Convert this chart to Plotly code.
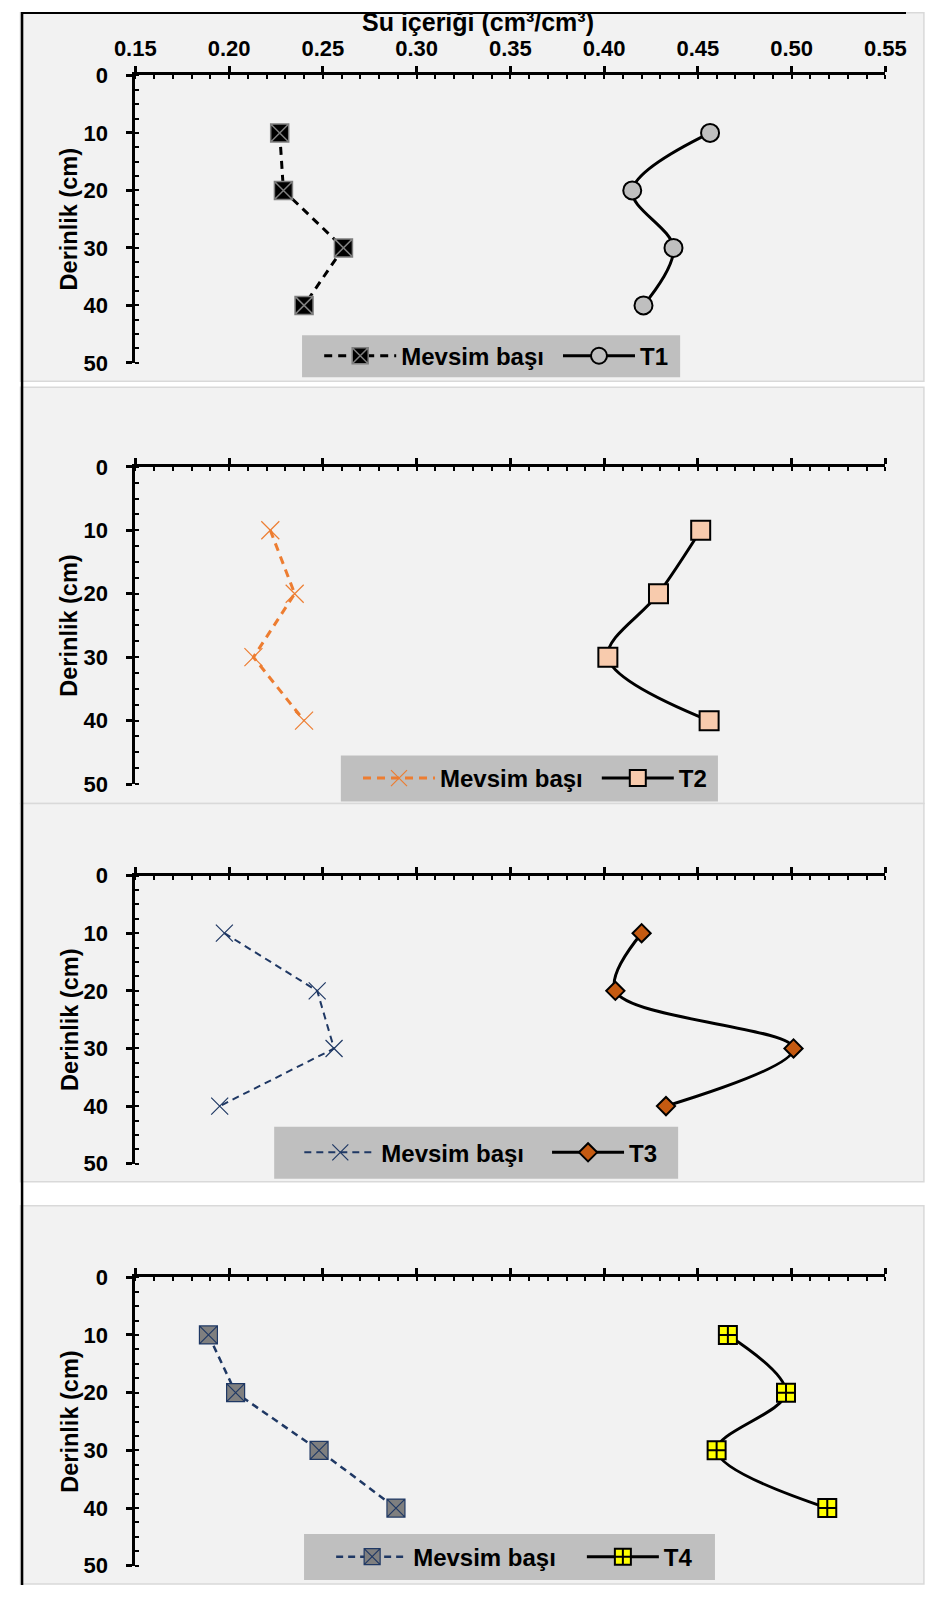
import plotly.graph_objects as go

W, H = 927, 1598

depth = [10, 20, 30, 40]

p1_mevsim = [0.227, 0.229, 0.261, 0.240]
p1_t1 = [0.4565, 0.415, 0.437, 0.421]

p2_mevsim = [0.222, 0.235, 0.213, 0.240]
p2_t2 = [0.4515, 0.429, 0.402, 0.456]

p3_mevsim = [0.1975, 0.247, 0.256, 0.195]
p3_t3 = [0.420, 0.406, 0.501, 0.433]

p4_mevsim = [0.189, 0.2035, 0.248, 0.289]
p4_t4 = [0.466, 0.497, 0.460, 0.519]

x_title = "Su içeriği (cm³/cm³)"
y_title = "Derinlik (cm)"
name_base = "Mevsim başı"
t_names = ["T1", "T2", "T3", "T4"]

FONT = "Liberation Sans, Arial, sans-serif"
FS_TICK = 22
FS_LEG = 24
FS_YT = 23.5
FS_XT = 25

# mapping from target picture pixels to figure pixels (the page is
# shown with a small offset / scale, compensated here)
SX, OX = 0.9675, 14.5
SY, OY = 0.989, 6.8


def fx(t):
    t = 1.00832 * t - 3.18
    return (t - OX) / SX


def fy(t):
    t = 1.00547 * t - 4.36
    return (t - OY) / SY


def px(t):
    return fx(t) / W


def py(t):
    return 1 - fy(t) / H


panels = [(7.6, 380), (386, 802), (802, 1180), (1204, 1582)]
axes_y = [(74.5, 361.7), (465.6, 782.6), (874.0, 1162.0), (1275.4, 1563.7)]
legend_boxes = [(300, 680, 334, 376), (339, 718, 754, 800),
                (272, 678, 1125, 1177), (302, 715, 1532, 1578)]
legend_starts = [(323, 563), (362, 602), (303, 552), (335, 587)]
X0, X1 = 132.4, 886.3

fig = go.Figure()

series = [
    (p1_mevsim, p1_t1,
     dict(color="black", width=3, dash="8px,6px"),
     dict(symbol="square-x", size=18, color="black", line=dict(color="#7f7f7f", width=1.5)),
     dict(symbol="circle", size=18, color="#bfbfbf", line=dict(color="black", width=2))),
    (p2_mevsim, p2_t2,
     dict(color="#ED7D31", width=3, dash="8px,6px"),
     dict(symbol="x-thin", size=18, color="#ED7D31", line=dict(color="#ED7D31", width=1.2)),
     dict(symbol="square", size=19, color="#F8CBAD", line=dict(color="black", width=2))),
    (p3_mevsim, p3_t3,
     dict(color="#1F3864", width=2, dash="7px,5px"),
     dict(symbol="x-thin", size=17, color="#1F3864", line=dict(color="#1F3864", width=1.2)),
     dict(symbol="diamond", size=14, color="#C55A11", line=dict(color="black", width=2))),
    (p4_mevsim, p4_t4,
     dict(color="#1F3864", width=2.5, dash="7px,5px"),
     dict(symbol="square-x", size=18, color="#7f7f7f", line=dict(color="#1F3864", width=1.2)),
     dict(symbol="square-cross", size=18, color="#FFFF00", line=dict(color="black", width=2))),
]

shapes = []
annotations = []
layout_extra = {}

for i, (mv, tv, mline, mmark, tmark) in enumerate(series):
    k = "" if i == 0 else str(i + 1)
    legA = "legend" if i == 0 else f"legend{2 * i + 1}"
    legB = f"legend{2 * i + 2}"
    fig.add_trace(go.Scatter(
        x=mv, y=depth, mode="lines+markers", name=name_base,
        line=mline, marker=mmark, xaxis=f"x{k}", yaxis=f"y{k}", legend=legA))
    fig.add_trace(go.Scatter(
        x=tv, y=depth, mode="lines+markers", name=t_names[i],
        line=dict(color="black", width=3, shape="spline", smoothing=1),
        marker=tmark, xaxis=f"x{k}", yaxis=f"y{k}", legend=legB))

    top, bot = panels[i]
    shapes.append(dict(type="rect", xref="paper", yref="paper",
                       x0=px(17), x1=px(925), y0=py(bot), y1=min(py(top), 0.9995),
                       fillcolor="#f2f2f2", line=dict(color="#d9d9d9", width=1.5),
                       layer="below"))
    lx0, lx1, ly0, ly1 = legend_boxes[i]
    shapes.append(dict(type="rect", xref="paper", yref="paper",
                       x0=px(lx0), x1=px(lx1), y0=py(ly1), y1=py(ly0),
                       fillcolor="#bfbfbf", line=dict(width=0), layer="below"))

    y0p, y50p = axes_y[i]
    layout_extra[f"xaxis{k}"] = dict(
        domain=[px(X0), px(X1)], range=[0.15, 0.55], side="top",
        anchor=f"y{k}", showline=True, linewidth=3, linecolor="black",
        ticks="outside", ticklen=6, tickwidth=2.5, tickcolor="black",
        tick0=0.15, dtick=0.05, tickformat=".2f",
        minor=dict(ticks="inside", dtick=0.01, ticklen=4, tickwidth=2, tickcolor="black"),
        showgrid=False, zeroline=False, showticklabels=(i == 0),
        ticklabelstandoff=2,
        tickfont=dict(family=FONT, size=FS_TICK, color="black", weight="bold"),
        fixedrange=True)
    layout_extra[f"yaxis{k}"] = dict(
        domain=[py(y50p), py(y0p)], range=[50, 0],
        anchor=f"x{k}", showline=True, linewidth=3, linecolor="black",
        ticks="outside", ticklen=6, tickwidth=2.5, tickcolor="black",
        tick0=0, dtick=10,
        minor=dict(ticks="inside", dtick=2.5, ticklen=4, tickwidth=2, tickcolor="black"),
        showgrid=False, zeroline=False, ticklabelstandoff=14,
        tickfont=dict(family=FONT, size=FS_TICK, color="black", weight="bold"),
        fixedrange=True)
    for leg, sx in ((legA, legend_starts[i][0]), (legB, legend_starts[i][1])):
        layout_extra[leg] = dict(
            orientation="h", x=(fx(sx) - 6) / W, xanchor="left",
            y=py((ly0 + ly1) / 2), yanchor="middle",
            bgcolor="rgba(0,0,0,0)", borderwidth=0,
            font=dict(family=FONT, size=FS_LEG, color="black", weight="bold"),
            itemwidth=72)

    annotations.append(dict(
        text=y_title, xref="paper", yref="paper", x=px(66), y=py((y0p + y50p) / 2),
        textangle=-90, showarrow=False, xanchor="center", yanchor="middle",
        font=dict(family=FONT, size=FS_YT, color="black", weight="bold")))

annotations.append(dict(
    text=x_title, xref="paper", yref="paper", x=px(477), y=1 - 10.5 / H,
    showarrow=False, xanchor="center", yanchor="middle",
    font=dict(family=FONT, size=FS_XT, color="black", weight="bold")))

shapes.append(dict(type="line", xref="paper", yref="paper",
                   x0=0.0012, x1=0.0012, y0=0, y1=1, line=dict(color="black", width=2.5)))
shapes.append(dict(type="line", xref="paper", yref="paper",
                   x0=0, x1=1, y0=0.9994, y1=0.9994, line=dict(color="black", width=2)))

fig.update_layout(
    width=W, height=H, margin=dict(l=0, r=0, t=0, b=0),
    paper_bgcolor="white", plot_bgcolor="rgba(0,0,0,0)",
    shapes=shapes, annotations=annotations, showlegend=True,
    **layout_extra)

fig.write_html("out.html")
